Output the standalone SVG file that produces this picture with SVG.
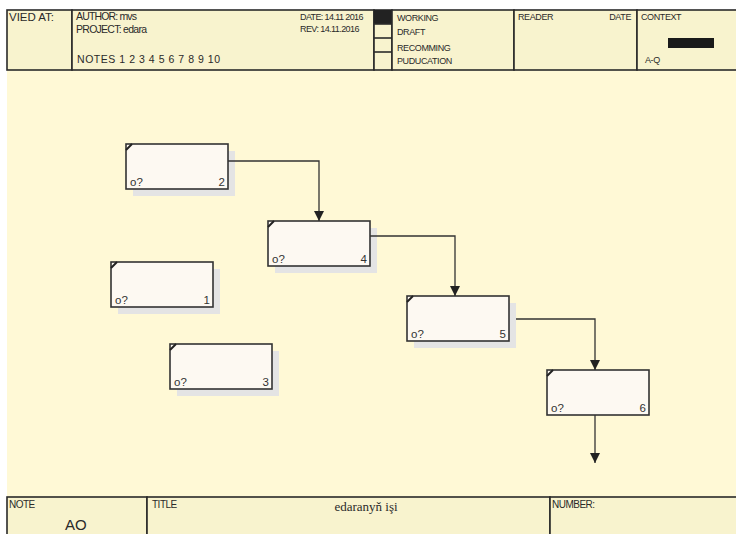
<svg xmlns="http://www.w3.org/2000/svg" width="736" height="534" viewBox="0 0 736 534">
<defs>
<style>
.t{font-family:"Liberation Sans",Arial,sans-serif;fill:#2a2a2a}
.h{font-size:10.5px}
.s{font-size:9px;letter-spacing:-0.4px}
.f{font-size:10px;letter-spacing:-0.5px}
.cell{fill:#F8F3CE;stroke:#2a2a2a;stroke-width:1.6}
.box{fill:#FDF9F2;stroke:#333;stroke-width:1.6}
.sh{fill:#E4E4E4}
.cn{fill:none;stroke:#333;stroke-width:1.3}
.lbl{font-family:"Liberation Sans",Arial,sans-serif;font-size:11.5px;fill:#333}
</style>
<marker id="arr" viewBox="0 0 10 10" refX="10" refY="5" markerWidth="10" markerHeight="10" markerUnits="userSpaceOnUse" orient="auto">
<path d="M0,0 L10,5 L0,10 z" fill="#222"/>
</marker>
</defs>
<rect x="0" y="0" width="736" height="534" fill="#ffffff"/>
<rect x="7" y="10" width="740" height="530" fill="#FFF9D6"/>

<g id="header">
<rect class="cell" x="7" y="10" width="65" height="60"/>
<rect class="cell" x="72" y="10" width="302" height="60"/>
<rect class="cell" x="374" y="10" width="18" height="60"/>
<rect x="374" y="10" width="18" height="14" fill="#222"/>
<line x1="374" y1="24" x2="392" y2="24" stroke="#2a2a2a" stroke-width="1.6"/>
<line x1="374" y1="38" x2="392" y2="38" stroke="#2a2a2a" stroke-width="1.6"/>
<line x1="374" y1="52" x2="392" y2="52" stroke="#2a2a2a" stroke-width="1.6"/>
<rect class="cell" x="392" y="10" width="122" height="60"/>
<rect class="cell" x="514" y="10" width="123" height="60"/>
<rect class="cell" x="637" y="10" width="110" height="60"/>
<rect x="668" y="38" width="46" height="10" fill="#1a1a1a"/>
<text class="t" x="9" y="21" font-size="11.5" textLength="45">VIED AT:</text>
<text class="t h" x="76" y="20" textLength="61">AUTHOR: mvs</text>
<text class="t h" x="76" y="33" textLength="71">PROJECT: edara</text>
<text class="t h" x="77" y="63" textLength="143">NOTES  1 2 3 4 5 6 7 8  9  10</text>
<text class="t s" x="300" y="20" textLength="63">DATE:  14.11 2016</text>
<text class="t s" x="300" y="32" textLength="59">REV:  14.11.2016</text>
<text class="t s" x="397" y="21">WORKING</text>
<text class="t s" x="397" y="35">DRAFT</text>
<text class="t s" x="397" y="51">RECOMMING</text>
<text class="t s" x="397" y="64">PUDUCATION</text>
<text class="t s" x="518" y="20">READER</text>
<text class="t s" x="631" y="20" text-anchor="end">DATE</text>
<text class="t s" x="641" y="20">CONTEXT</text>
<text class="t s" x="645" y="63">A-Q</text>
</g>

<g id="footer">
<rect class="cell" x="7" y="497" width="140" height="50"/>
<rect class="cell" x="147" y="497" width="403" height="50"/>
<rect class="cell" x="550" y="497" width="200" height="50"/>
<text class="t f" x="9" y="508">NOTE</text>
<text class="t" x="65" y="530" font-size="15">AO</text>
<text class="t f" x="152" y="508">TITLE</text>
<text x="366" y="511" text-anchor="middle" font-family="'Liberation Serif','Times New Roman',serif" font-size="13" fill="#2a2a2a">edaranyň işi</text>
<text class="t f" x="552" y="508">NUMBER:</text>
</g>

<g id="node2">
<rect class="sh" x="133" y="151" width="102" height="45"/>
<rect class="box" x="126" y="144" width="102" height="45"/>
<path d="M126,150 L132,144" stroke="#222" stroke-width="2"/>
<text class="lbl" x="130" y="186">o?</text>
<text class="lbl" x="225" y="186" text-anchor="end">2</text>
</g>
<g id="node4">
<rect class="sh" x="275" y="228" width="102" height="45"/>
<rect class="box" x="268" y="221" width="102" height="45"/>
<path d="M268,227 L274,221" stroke="#222" stroke-width="2"/>
<text class="lbl" x="272" y="263">o?</text>
<text class="lbl" x="367" y="263" text-anchor="end">4</text>
</g>
<g id="node1">
<rect class="sh" x="118" y="269" width="102" height="45"/>
<rect class="box" x="111" y="262" width="102" height="45"/>
<path d="M111,268 L117,262" stroke="#222" stroke-width="2"/>
<text class="lbl" x="115" y="304">o?</text>
<text class="lbl" x="210" y="304" text-anchor="end">1</text>
</g>
<g id="node3">
<rect class="sh" x="177" y="351" width="102" height="45"/>
<rect class="box" x="170" y="344" width="102" height="45"/>
<path d="M170,350 L176,344" stroke="#222" stroke-width="2"/>
<text class="lbl" x="174" y="386">o?</text>
<text class="lbl" x="269" y="386" text-anchor="end">3</text>
</g>
<g id="node5">
<rect class="sh" x="414" y="303" width="102" height="45"/>
<rect class="box" x="407" y="296" width="102" height="45"/>
<path d="M407,302 L413,296" stroke="#222" stroke-width="2"/>
<text class="lbl" x="411" y="338">o?</text>
<text class="lbl" x="506" y="338" text-anchor="end">5</text>
</g>
<g id="node6">
<rect class="box" x="547" y="370" width="102" height="45"/>
<path d="M547,376 L553,370" stroke="#222" stroke-width="2"/>
<text class="lbl" x="551" y="412">o?</text>
<text class="lbl" x="646" y="412" text-anchor="end">6</text>
</g>

<g id="connectors">
<polyline class="cn" points="228,161 319,161 319,221" marker-end="url(#arr)"/>
<polyline class="cn" points="370,236 455,236 455,296" marker-end="url(#arr)"/>
<polyline class="cn" points="516,319 595,319 595,370" marker-end="url(#arr)"/>
<polyline class="cn" points="595,415 595,463" marker-end="url(#arr)"/>
</g>
</svg>
